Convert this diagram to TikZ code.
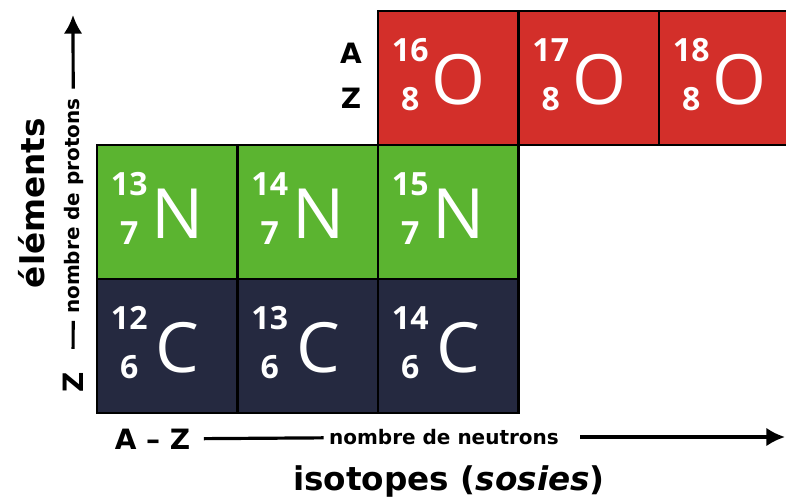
\documentclass[tikz,border=0pt]{standalone}
\usepackage{fontspec}
\setmainfont{Open Sans}
\newfontfamily\labelfont[Ligatures=TeX]{DejaVu Sans}
\usepackage{tikz}
\usetikzlibrary{arrows.meta}
\definecolor{oxred}{RGB}{211, 47, 42}
\definecolor{nitgreen}{RGB}{91, 180, 48}
\definecolor{carbnavy}{RGB}{37, 41, 64}
\tikzset{
  isocell/.style = {
    rectangle, 
    draw=black, 
    line width=2pt, 
    minimum width=105.4pt, 
    minimum height=100.5pt, 
    inner sep=0pt
  },
  ocell/.style = {isocell, fill=oxred},
  ncell/.style = {isocell, fill=nitgreen},
  ccell/.style = {isocell, fill=carbnavy},
  massno/.style = {
    font=\fontsize{24}{24}\selectfont\bfseries, 
    text=white, 
    inner sep=0pt
  },
  elsym/.style = {
    font=\fontsize{52}{52}\selectfont, 
    text=white, 
    inner sep=0pt
  },
  axislabel/.style = {font=\labelfont\fontsize{21}{21}\selectfont\bfseries, inner sep=0pt},
  axistext/.style = {font=\labelfont\fontsize{15}{15}\selectfont\bfseries, inner sep=0pt},
  axistitle/.style = {font=\labelfont\fontsize{24.5}{24.5}\selectfont\bfseries, inner sep=0pt},
  axisline/.style = {line width=2.4pt, draw=black},
  axisarrow/.style = {
    -{Latex[length=14pt, width=14pt]}, 
    line width=2.4pt, 
    draw=black
  }
}
% one box of the chart: name, x, y, style, A, Z, symbol
\newcommand{\nuclide}[7]{%
  \node[#4] (#1) at (#2,#3) {};
  \node[massno] (#1a) at ([shift={(-38,-28)}]#1.center) {#5};
  \node[massno] (#1z) at ([shift={(-38,21.5)}]#1.center) {#6};
  \node[elsym] (#1x) at ([shift={(10.5,1.5)}]#1.center) {#7};
}

\begin{document}
\begin{tikzpicture}[x=0.75pt, y=-0.75pt]
  \useasboundingbox (0,0) rectangle (786,501);
  \clip (0,0) rectangle (786,501);

  % Oxygen row
  \nuclide{ox16}{448.25}{78}{ocell}{16}{8}{O}
  \nuclide{ox17}{588.75}{78}{ocell}{17}{8}{O}
  \nuclide{ox18}{729.25}{78}{ocell}{18}{8}{O}

  % Nitrogen row
  \nuclide{ni13}{167.25}{212}{ncell}{13}{7}{N}
  \nuclide{ni14}{307.75}{212}{ncell}{14}{7}{N}
  \nuclide{ni15}{448.25}{212}{ncell}{15}{7}{N}

  % Carbon row
  \nuclide{ca12}{167.25}{346}{ccell}{12}{6}{C}
  \nuclide{ca13}{307.75}{346}{ccell}{13}{6}{C}
  \nuclide{ca14}{448.25}{346}{ccell}{14}{6}{C}

  % A and Z beside the first box
  \node[axislabel] (alab) at (351,53) {A};
  \node[axislabel] (zlab) at (351,98) {Z};

  % Vertical axis
  \node[axislabel, rotate=90] (zaxis) at (73,382) {Z};
  \node[axistext, rotate=90] (protons) at (73.5,206) {nombre de protons};
  \coordinate (ytip) at (73,15);
  \draw[axisline, shorten <=17pt, shorten >=5pt] (zaxis) -- (protons);
  \draw[axisarrow, shorten <=7pt] (protons) -- (ytip);
  \node[axistitle, rotate=90] (elements) at (32,203) {éléments};

  % Horizontal axis
  \node[axislabel] (azaxis) at (152.5,439) {A – Z};
  \node[axistext] (neutrons) at (444,437) {nombre de neutrons};
  \coordinate (xtip) at (785,437);
  \draw[axisline, shorten <=10pt, shorten >=4pt] (azaxis) -- (neutrons);
  \draw[axisarrow, shorten <=16pt] (neutrons) -- (xtip);
  \node[axistitle] (isotopes) at (449,481) {isotopes (\textit{sosies})};
\end{tikzpicture}
\end{document}
